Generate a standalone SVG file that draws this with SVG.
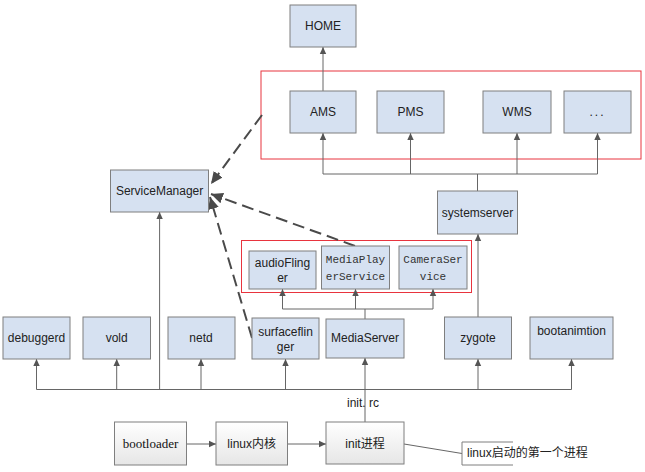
<svg xmlns="http://www.w3.org/2000/svg" width="645" height="472" viewBox="0 0 645 472">
<defs>
<marker id="a" markerUnits="userSpaceOnUse" markerWidth="8" markerHeight="8" refX="7" refY="4" orient="auto"><path d="M0,0.8 L7,4 L0,7.2 z" fill="#555"/></marker>
<marker id="d" markerUnits="userSpaceOnUse" markerWidth="14" markerHeight="12" refX="12" refY="6" orient="auto"><path d="M0,0.5 L12,6 L0,11.5 z" fill="#4a4a4a"/></marker>
<linearGradient id="g" x1="0" y1="0" x2="0" y2="1"><stop offset="0" stop-color="#ffffff"/><stop offset="1" stop-color="#e6e6e6"/></linearGradient>
</defs>
<style>
.b{fill:#d6e1f1;stroke:#7f7f7f;stroke-width:1}
.w{fill:url(#g);stroke:#7f7f7f;stroke-width:1}
.r{fill:none;stroke:#e8343e;stroke-width:1}
.t{font-family:"Liberation Sans",Arial,sans-serif;font-size:12px;fill:#222;text-anchor:middle}
.m{font-family:"Liberation Mono","Courier New",monospace;font-size:11px;fill:#333;text-anchor:middle}
.c{font-family:"Liberation Sans","Noto Sans CJK SC",sans-serif;font-size:12px;fill:#222}
.l{fill:none;stroke:#666;stroke-width:1}
.dl{fill:none;stroke:#4a4a4a;stroke-width:2;stroke-dasharray:12 6}
</style>
<rect width="645" height="472" fill="#fff"/>
<rect class="r" x="261" y="71" width="380" height="88"/>
<rect class="r" x="241.5" y="240.5" width="230" height="52"/>
<g id="connectors">
<path class="l" d="M323,91 V47" marker-end="url(#a)"/>
<path class="l" d="M323,174 H597.5"/>
<path class="l" d="M323,174 V133" marker-end="url(#a)"/>
<path class="l" d="M410.5,174 V133" marker-end="url(#a)"/>
<path class="l" d="M517,174 V133" marker-end="url(#a)"/>
<path class="l" d="M597.5,174 V133" marker-end="url(#a)"/>
<path class="l" d="M477.5,174 V191"/>
<path class="l" d="M478,317 V234" marker-end="url(#a)"/>
<path class="l" d="M282.5,309 H433"/>
<path class="l" d="M282.5,309 V289" marker-end="url(#a)"/>
<path class="l" d="M355.5,309 V289" marker-end="url(#a)"/>
<path class="l" d="M433,309 V289" marker-end="url(#a)"/>
<path class="l" d="M365,309 V319"/>
<path class="l" d="M36.5,389.5 H571.5"/>
<path class="l" d="M159.6,389.5 H365" stroke-width="1.6"/>
<path class="l" d="M36.5,389.5 V359" marker-end="url(#a)"/>
<path class="l" d="M116.7,389.5 V359" marker-end="url(#a)"/>
<path class="l" d="M201,389.5 V359" marker-end="url(#a)"/>
<path class="l" d="M285.5,389.5 V359" marker-end="url(#a)"/>
<path class="l" d="M365,389.5 V358" marker-end="url(#a)"/>
<path class="l" d="M478,389.5 V359" marker-end="url(#a)"/>
<path class="l" d="M571.5,389.5 V359" marker-end="url(#a)"/>
<path class="l" d="M159.6,389.5 V212" marker-end="url(#a)"/>
<path class="l" d="M365,422 V389.5"/>
<path class="l" d="M186.5,444 H216" marker-end="url(#a)"/>
<path class="l" d="M287.5,444 H326" marker-end="url(#a)"/>
<path class="l" d="M404,444 L462,453.5"/>
<path class="dl" d="M262,115 L211,184" marker-end="url(#d)"/>
<path class="dl" d="M355,246 L211,194" marker-end="url(#d)"/>
<path class="dl" d="M252,338 L210,197" marker-end="url(#d)"/>
</g>
<g id="home"><rect class="b" x="290" y="5" width="66" height="42"/><text class="t" x="323" y="30">HOME</text></g>
<g id="ams"><rect class="b" x="290" y="91" width="66" height="42"/><text class="t" x="323" y="116">AMS</text></g>
<g id="pms"><rect class="b" x="377" y="91" width="67" height="42"/><text class="t" x="410.5" y="116">PMS</text></g>
<g id="wms"><rect class="b" x="483" y="91" width="68" height="42"/><text class="t" x="517" y="116">WMS</text></g>
<g id="more"><rect class="b" x="564" y="91" width="67" height="42"/><text class="t" x="597.5" y="116" letter-spacing="2">...</text></g>
<g id="systemserver"><rect class="b" x="437.5" y="191" width="80" height="43"/><text class="t" x="477.5" y="217">systemserver</text></g>
<g id="servicemanager"><rect class="b" x="110.5" y="170" width="98" height="42"/><text class="t" x="159.6" y="195">ServiceManager</text></g>
<g id="audioflinger"><rect class="b" x="249" y="251" width="67" height="38"/><text class="t" x="282.5" y="267">audioFling</text><text class="t" x="282.5" y="282">er</text></g>
<g id="mediaplayerservice"><rect class="b" x="321.5" y="246" width="68" height="43"/><text class="m" x="355.5" y="263">MediaPlay</text><text class="m" x="355.5" y="280">erService</text></g>
<g id="cameraservice"><rect class="b" x="399" y="246" width="68" height="43"/><text class="m" x="433" y="263">CameraSer</text><text class="m" x="433" y="280">vice</text></g>
<g id="debuggerd"><rect class="b" x="3" y="317" width="67" height="42"/><text class="t" x="36.5" y="342">debuggerd</text></g>
<g id="vold"><rect class="b" x="83" y="317" width="67.5" height="42"/><text class="t" x="116.7" y="342">vold</text></g>
<g id="netd"><rect class="b" x="168" y="317" width="67" height="42"/><text class="t" x="201" y="342">netd</text></g>
<g id="surfaceflinger"><rect class="b" x="252" y="318" width="67" height="41"/><text class="t" x="285.5" y="336">surfaceflin</text><text class="t" x="285.5" y="351">ger</text></g>
<g id="mediaserver"><rect class="b" x="326" y="319" width="78" height="39"/><text class="t" x="365" y="342">MediaServer</text></g>
<g id="zygote"><rect class="b" x="444.5" y="317" width="67" height="42"/><text class="t" x="478" y="342">zygote</text></g>
<g id="bootanimtion"><rect class="b" x="530" y="317" width="83" height="42"/><text class="t" x="571.5" y="335">bootanimtion</text></g>
<g id="initrc-label"><text class="c" x="347" y="407">init. rc</text></g>
<g id="bootloader"><rect class="w" x="114.5" y="422" width="72" height="43"/><text x="150.5" y="448" font-family="'Liberation Serif','Times New Roman',serif" font-size="13" fill="#111" text-anchor="middle">bootloader</text></g>
<g id="kernel"><rect class="w" x="216" y="422" width="71.5" height="43"/><text class="c" x="251.7" y="448" text-anchor="middle">linux内核</text></g>
<g id="init"><rect class="w" x="326" y="422" width="78" height="42"/><text class="c" x="365" y="448" text-anchor="middle">init进程</text></g>
<g id="note"><rect x="462" y="442" width="51" height="23" fill="#fff"/><path d="M513,442 H462 V465 H513" fill="none" stroke="#7f7f7f" stroke-width="1"/><text class="c" x="467" y="457">linux启动的第一个进程</text></g>
</svg>
